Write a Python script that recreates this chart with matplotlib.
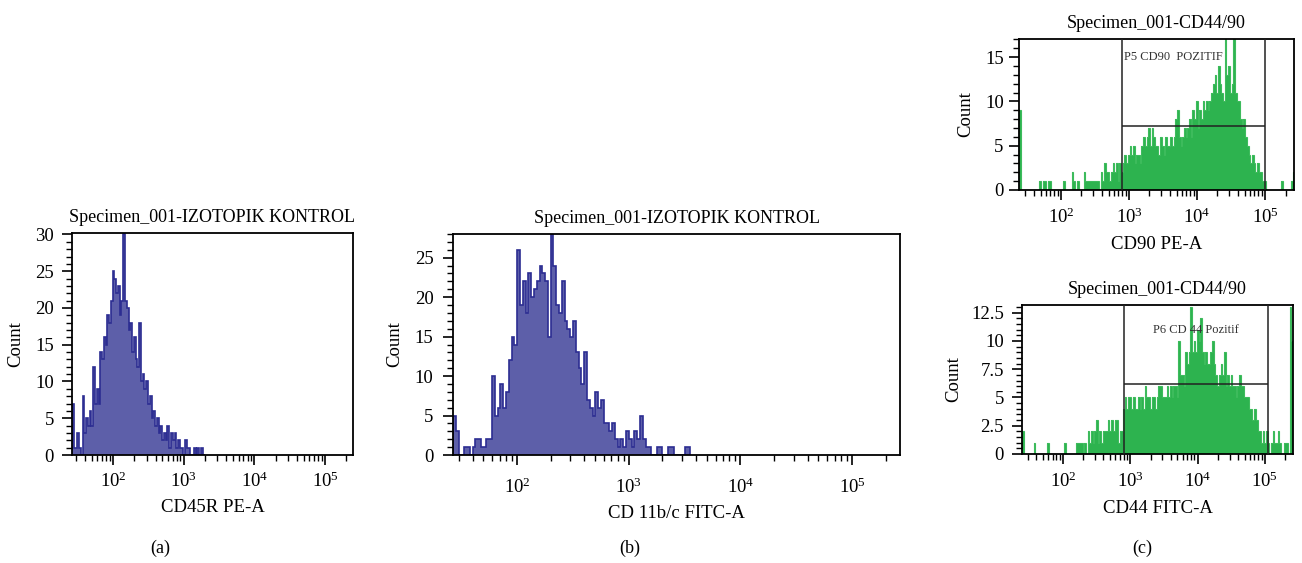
import numpy as np
import matplotlib
matplotlib.use("Agg")
import matplotlib.pyplot as plt
from matplotlib.ticker import MultipleLocator, LogLocator, NullFormatter

plt.rcParams['font.family'] = ['Liberation Serif', 'DejaVu Serif']
plt.rcParams['mathtext.fontset'] = 'custom'
plt.rcParams['mathtext.rm'] = 'Liberation Serif'

# ---------------- data ----------------
# (a) CD45R PE-A isotype control: bins of 0.025 decade starting at 10^1.42
a_start, a_width = 1.42, 0.025
a_counts = [7, 1, 1, 3, 1, 0, 8, 3, 5, 4, 6, 4, 12, 7, 9, 7, 14, 13, 16, 15,
            19, 18, 21, 25, 24, 22, 23, 19, 21, 30, 21, 20, 17, 18, 14, 16, 13, 12, 18, 10,
            11, 9, 10, 7, 8, 5, 6, 4, 5, 3, 4, 2, 3, 2, 4, 1, 3, 2, 3, 1,
            2, 1, 1, 0, 2, 1, 1, 0, 0, 1, 0, 1, 0, 1, 0]

# (b) CD 11b/c FITC-A isotype control
b_start, b_width = 1.427, 0.025
b_counts = [5, 3, 0, 0, 1, 1, 0, 1, 2, 2, 1, 1, 2, 2, 10, 5, 6, 9, 6, 8,
            12, 15, 14, 26, 19, 22, 18, 23, 20, 21, 22, 24, 23, 22, 15, 28, 24, 19, 18, 22,
            17, 16, 15, 17, 13, 11, 9, 13, 7, 6, 5, 8, 6, 7, 4, 4, 3, 4, 2, 1,
            2, 1, 3, 2, 1, 3, 2, 5, 2, 1, 1, 0, 0, 1, 1, 0, 0, 1, 1, 0,
            0, 0, 0, 1, 1]

# (c) top: CD90 PE-A
c1_start, c1_width = 1.382, 0.025
c1_counts = [9, 0, 0, 0, 0, 0, 0, 0, 0, 0, 0, 0,
             1, 0, 1, 1, 0, 1, 1,
             0, 0, 0, 0, 0, 0, 0, 1,
             0, 0, 0, 0, 2,
             1, 0, 1,
             0, 0, 0, 2,
             1, 1, 1, 1, 1, 1, 1, 1,
             0, 2, 1, 3,
             2, 2, 1, 2, 3,
             2, 3, 1, 3, 2,
             3, 4, 3, 4,
             5, 4, 5, 3,
             4, 4, 3, 5,
             6, 5, 6, 7,
             5, 7, 6, 5,
             5, 4, 6, 5,
             4, 6, 5, 5,
             6, 5, 6, 8,
             9, 6, 5, 6,
             7, 6, 7, 8,
             6, 9, 8, 10,
             7, 9, 8, 10,
             9, 10, 9, 10,
             11, 12, 13, 11,
             14, 12, 11, 10,
             17, 13, 14, 11,
             12, 17, 11, 10,
             10, 8, 7, 8,
             6, 5, 4, 3,
             4, 3, 2, 3,
             2, 2, 1, 1,
             0, 0, 0, 0, 0, 0, 0, 0,
             0, 1, 0,
             0, 0, 0, 0, 1, 2]
c1_gate_x = [800, 1.0e5]
c1_gate_y = 7.28
c1_gate_label = "P5 CD90  POZITIF"

# (c) bottom: CD44 FITC-A
c2_start, c2_width = 1.391, 0.025
c2_counts = [2,
             0, 0, 0, 0, 0, 0, 1,
             0, 0, 0, 0, 0, 0, 0, 1,
             0, 0, 0, 0, 0, 0, 0, 0, 0, 1,
             0, 0, 0, 0, 0, 0, 1,
             1, 1, 1, 0, 1, 0, 2,
             1, 2, 1, 2, 3,
             1, 2, 1, 2, 2,
             2, 3, 2, 3, 2,
             3, 3, 1, 2, 2, 4,
             5, 4, 5, 5,
             4, 5, 4, 4,
             5, 4, 5, 4,
             6, 5, 5, 4,
             5, 5, 4, 5,
             6, 6, 5, 5,
             5, 6, 5, 6,
             5, 6, 6, 5,
             10, 7, 7, 6,
             9, 8, 9, 13,
             9, 10, 9, 11,
             10, 12, 9, 8,
             9, 8, 8, 9,
             10, 8, 7, 6,
             7, 8, 7, 9,
             6, 7, 6, 7,
             6, 6, 5, 6,
             7, 6, 6, 5,
             5, 5, 4, 4,
             3, 4, 3, 2,
             2, 1, 2, 1,
             2, 1, 0, 1,
             2, 1, 1, 2,
             1, 0, 0,
             1, 1, 0,
             13, 10]
c2_gate_x = [800, 1.1e5]
c2_gate_y = 6.2
c2_gate_label = "P6 CD 44 Pozitif"

titles = ["Specimen_001-IZOTOPIK KONTROL", "Specimen_001-IZOTOPIK KONTROL",
          "Specimen_001-CD44/90", "Specimen_001-CD44/90"]
xlabels = ["CD45R PE-A", "CD 11b/c FITC-A", "CD90 PE-A", "CD44 FITC-A"]
panel_labels = ["(a)", "(b)", "(c)"]

BLUE_FILL = "#5d5fa9"
BLUE_EDGE = "#2c2d92"
GREEN_FILL = "#2db34f"
GREEN_EDGE = "#3dbb5c"

W, H = 1302, 563
fig = plt.figure(figsize=(W / 100, H / 100), dpi=100)


def px_axes(l, t, r, b):
    return fig.add_axes([l / W, 1 - b / H, (r - l) / W, (b - t) / H])


def edges_of(start, width, n):
    return 10 ** (start + width * np.arange(n + 1))


def style(ax, xlim, ylim, ymajor, yminor, title, xlabel, ypad, xpad, ylabpad):
    ax.set_xscale('log')
    ax.set_xlim(*xlim)
    ax.set_ylim(*ylim)
    ax.xaxis.set_major_locator(LogLocator(base=10, numticks=10))
    ax.xaxis.set_minor_locator(LogLocator(base=10, subs=np.arange(2, 10), numticks=20))
    ax.xaxis.set_minor_formatter(NullFormatter())
    ax.yaxis.set_major_locator(MultipleLocator(ymajor))
    ax.yaxis.set_minor_locator(MultipleLocator(yminor))
    ax.tick_params(which='major', direction='out', length=7, width=1.2, labelsize=13.5)
    ax.tick_params(which='minor', direction='out', length=4.5, width=1.0)
    ax.tick_params(axis='y', which='major', pad=ypad)
    ax.tick_params(axis='x', which='major', pad=xpad)
    for s in ax.spines.values():
        s.set_linewidth(1.3)
    ax.set_title(title, fontsize=13, pad=8)
    ax.set_xlabel(xlabel, fontsize=13.5, labelpad=6)
    ax.set_ylabel("Count", fontsize=13.5, labelpad=ylabpad)


# (a)
axa = px_axes(72, 233, 353, 455)
ea = edges_of(a_start, a_width, len(a_counts))
axa.stairs(a_counts, ea, fill=True, color=BLUE_FILL, lw=0)
axa.stairs(a_counts, ea, color=BLUE_EDGE, lw=1.2)
style(axa, (10 ** 1.42, 10 ** 5.395), (0, 30.2), 5, 1, titles[0], xlabels[0],
      ypad=6, xpad=5, ylabpad=8)

# (b)
axb = px_axes(453, 234, 900, 455)
eb = edges_of(b_start, b_width, len(b_counts))
axb.stairs(b_counts, eb, fill=True, color=BLUE_FILL, lw=0)
axb.stairs(b_counts, eb, color=BLUE_EDGE, lw=1.2)
style(axb, (10 ** 1.427, 10 ** 5.43), (0, 28), 5, 1, titles[1], xlabels[1],
      ypad=7, xpad=9, ylabpad=8)

# (c) top
axc1 = px_axes(1019, 39, 1294, 190)
ec1 = edges_of(c1_start, c1_width, len(c1_counts))
axc1.stairs(c1_counts, ec1, fill=True, color=GREEN_FILL, lw=0)
axc1.stairs(c1_counts, ec1, color=GREEN_EDGE, lw=0.8)
style(axc1, (10 ** 1.382, 10 ** 5.426), (0, 17.05), 5, 1, titles[2], xlabels[2],
      ypad=4, xpad=6, ylabpad=8)
for gx in c1_gate_x:
    axc1.axvline(gx, color='#222222', lw=1.1, zorder=5)
axc1.hlines(c1_gate_y, c1_gate_x[0], c1_gate_x[1], color='#222222', lw=1.1, zorder=5)
axc1.text(c1_gate_x[0] * 1.05, 15.0, c1_gate_label, fontsize=9, ha='left', va='center',
          color='#333333', zorder=6)

# (c) bottom
axc2 = px_axes(1022, 305, 1293, 454)
ec2 = edges_of(c2_start, c2_width, len(c2_counts))
axc2.stairs(c2_counts, ec2, fill=True, color=GREEN_FILL, lw=0)
axc2.stairs(c2_counts, ec2, color=GREEN_EDGE, lw=0.8)
style(axc2, (10 ** 1.391, 10 ** 5.418), (0, 13.18), 2.5, 0.5, titles[3], xlabels[3],
      ypad=6, xpad=6, ylabpad=6)
axc2.yaxis.set_major_formatter(plt.FuncFormatter(lambda v, p: f"{v:g}"))
for gx in c2_gate_x:
    axc2.axvline(gx, color='#222222', lw=1.1, zorder=5)
axc2.hlines(c2_gate_y, c2_gate_x[0], c2_gate_x[1], color='#222222', lw=1.1, zorder=5)
axc2.text(np.sqrt(c2_gate_x[0] * c2_gate_x[1]), 11.0, c2_gate_label, fontsize=9,
          ha='center', va='center', color='#333333', zorder=6)

# panel labels
for lab, x in zip(panel_labels, [160, 630, 1142]):
    fig.text(x / W, 1 - 548 / H, lab, fontsize=13, ha='center', va='center')

fig.savefig("out.png", dpi=100)
